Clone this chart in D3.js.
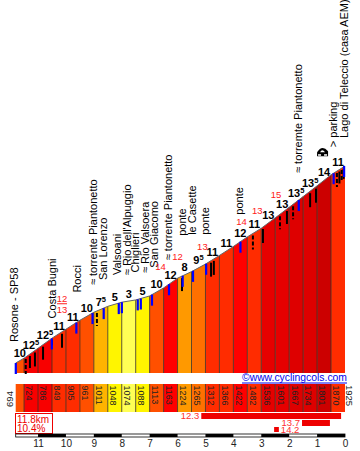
<!DOCTYPE html>
<html><head><meta charset="utf-8">
<script src="https://cdn.jsdelivr.net/npm/d3@7/dist/d3.min.js"></script>
<style>
html,body{margin:0;padding:0;background:#fff;}
svg{display:block;font-family:"Liberation Sans",Arial,sans-serif;}
</style></head>
<body><svg id="c" width="360" height="451"></svg>
<script>
// ---- data ----
const kmMarks = [11.8, 11.5, 11, 10.5, 10, 9.5, 9, 8.5, 8, 7.5, 7, 6.5, 6, 5.5, 5, 4.5, 4, 3.5, 3, 2.5, 2, 1.5, 1, 0.5, 0];
const elevations = [694, 724, 786, 849, 905, 961, 1011, 1048, 1074, 1088, 1113, 1163, 1224, 1265, 1312, 1366, 1422, 1482, 1536, 1601, 1667, 1734, 1801, 1870, 1925];
const gradients = ["10","12.5","12.5","11","11","10","7.5","5","3","5","10","12","8","9.5","11","11","12","11","13","13","13.5","13.5","14","11"];
const placeNames = ["Rosone - SP58","Costa Bugni","Rocci","\u2248 torrente Piantonetto","San Lorenzo","Valsoani","\u2248 Rio dell'Alpuggio","Chiglieri","\u2248 Rio Valsoera","San Giacomo","\u2248 torrente Piantonetto","ponte","le Casette","ponte","ponte","\u2248 torremte Piantonetto","> parking","Lago di Teleccio (casa AEM)"];
const placeKm = [11.8, 10.51, 9.63, 9.05, 8.65, 8.11, 8.0, 7.43, 7.32, 6.92, 6.31, 5.82, 5.45, 4.98, 3.75, 1.66, 0.41, 0];
const hairpinKm = [11.44, 11.29, 11.11, 10.82, 10.5, 10.14, 8.89, 5.84, 4.8, 4.7, 3.3, 2.94, 2.33, 2.08, 1.86, 1.25, 1.04, 0.29, 0.2, 0.12, 0.05];
const hairpinDashed = [1,0,0,0,0,0,1,0,0,0,1,0,1,0,1,0,0,1,0,1,0];
const spotKm = [6.61, 6.0, 5.11, 3.71, 3.14, 2.47];
const spotValues = ["14","12","13","14","13","15"];
const fractionKm = 10.14, fractionTop = "12", fractionBottom = "13";
const kmTicks = [11,10,9,8,7,6,5,4,3,2,1,0];
const maxGradValues = ["12.3","13.7","14.2"];
const maxGradFrom = [5.15, 1.54, 2.54];
const maxGradTo = [0.14, 0.54, 2.37];
const totalLength = "11.8km", avgGradient = "10.4%";
const credit = "\u00a9www.cyclingcols.com";

// ---- layout (pixels, not data) ----
const placeDx = [-2,0,0.5,0.5,-0.7,-1.7,5.2,-2.7,4.2,2,-1,-0.6,-1,-1,-1.4,-0.7,-0.6,-1];
const placeLift = [21,20,30,28,28,28,27,27,25.5,27,24,40,36,29,27,27,26,28];
const hairpinLen = [15,12,14,13,5,14,13,13,14,14,14,14,13,13,13,14,14,14,12,12,10];
const spotLift = [20,18,16,16,17,19];

const gradColor = d3.scaleLinear()
  .domain([3,5,7.5,8,9.5,10,11,12,12.5,13,13.5,14])
  .range(["#ffff55","#fff500","#ffb300","#ff9900","#ff7000","#ff5000","#ff2c00","#ff0000","#f80000","#e60000","#de0000","#cc0000"]);

const svg = d3.select("#c");
const x = d3.scaleLinear().domain([11.8, 0]).range([15.7, 345]);
const y = d3.scaleLinear().domain([694, 1925]).range([363, 166]);
const elevAt = d3.scaleLinear().domain(kmMarks).range(elevations);
const baseY = 373;

// segments
const segs = gradients.map((g, i) => ({g, k0: kmMarks[i], k1: kmMarks[i+1], e0: elevations[i], e1: elevations[i+1]}));
const area = d3.area().x(d => d[0]).y0(baseY).y1(d => d[1]);
svg.append("g").selectAll("path").data(segs).join("path")
  .attr("d", d => area([[x(d.k0), y(d.e0)], [x(d.k1), y(d.e1)]]))
  .attr("fill", d => gradColor(+d.g));
// vertical dividers
svg.append("g").selectAll("line").data(kmMarks.slice(1, -1)).join("line")
  .attr("x1", k => x(k)).attr("x2", k => x(k))
  .attr("y1", k => y(elevAt(k))).attr("y2", baseY)
  .attr("stroke", "#3a3020").attr("stroke-opacity", 0.8).attr("stroke-width", 1);
// profile outline
svg.append("path")
  .attr("d", d3.line().x((k, i) => x(k)).y((k, i) => y(elevations[i]))(kmMarks))
  .attr("fill", "none").attr("stroke", "#666").attr("stroke-width", 1);

// hairpins
svg.append("g").selectAll("line").data(hairpinKm).join("line")
  .attr("x1", k => x(k)).attr("x2", k => x(k))
  .attr("y1", k => y(elevAt(k)) + 2)
  .attr("y2", (k, i) => y(elevAt(k)) + 2 + hairpinLen[i])
  .attr("stroke", "#000").attr("stroke-width", 2)
  .attr("stroke-dasharray", (k, i) => hairpinDashed[i] ? "4,2" : null);

// blue place markers
svg.append("g").selectAll("rect").data(placeKm).join("rect")
  .attr("x", k => Math.min(x(k) - 1, 343)).attr("width", 2.2)
  .attr("y", k => y(elevAt(k))).attr("height", 11)
  .attr("fill", "#0000ff");

// place labels
svg.append("g").selectAll("text").data(placeNames).join("text")
  .attr("transform", (n, i) => {
    const px = x(placeKm[i]) + placeDx[i];
    const py = y(elevAt(placeKm[i])) - placeLift[i];
    return `translate(${px},${py}) rotate(-90)`;
  })
  .attr("dy", "0.35em").attr("font-size", 11).attr("fill", "#000")
  .text(d => d);

// parking icon
{
  const px = x(placeKm[16]) - 16.5, py = y(elevAt(placeKm[16])) - 26;
  const p = d3.path();
  p.moveTo(px, py + 9); p.lineTo(px, py + 5); p.quadraticCurveTo(px + 5, py - 3, px + 11, py + 4);
  p.lineTo(px + 11, py + 9); p.closePath();
  svg.append("path").attr("d", p.toString()).attr("fill", "#000");
  svg.append("path").attr("d", `M${px+3},${py+5} Q${px+5},${py+1} ${px+8},${py+5} Z`).attr("fill", "#fff");
  svg.append("rect").attr("x", px + 1).attr("y", py + 7).attr("width", 3).attr("height", 1.5).attr("fill", "#fff");
  svg.append("rect").attr("x", px + 7).attr("y", py + 7).attr("width", 3).attr("height", 1.5).attr("fill", "#fff");
}

// gradient labels
const gl = svg.append("g").selectAll("text").data(segs).join("text")
  .attr("x", d => x((d.k0 + d.k1) / 2))
  .attr("y", d => y((d.e0 + d.e1) / 2) - 2.5 - (+d.g) * 0.15)
  .attr("text-anchor", "middle").attr("font-size", 11).attr("font-weight", "bold").attr("fill", "#000");
gl.each(function(d) {
  const t = d3.select(this);
  const parts = d.g.split(".");
  t.append("tspan").text(parts[0]);
  if (parts[1]) t.append("tspan").attr("font-size", 7.5).attr("dy", -4).text(parts[1]);
});

// red spot gradients
svg.append("g").selectAll("text").data(spotValues).join("text")
  .attr("x", (v, i) => x(spotKm[i])).attr("y", (v, i) => y(elevAt(spotKm[i])) - spotLift[i])
  .attr("text-anchor", "middle").attr("font-size", 9.5).attr("fill", "#ff2020").text(v => v);
{
  const fx = x(fractionKm), fy = y(elevAt(fractionKm)) - 19;
  svg.append("text").attr("x", fx).attr("y", fy - 11).attr("text-anchor", "middle").attr("font-size", 9.5).attr("fill", "#ff2020").text(fractionTop);
  svg.append("line").attr("x1", fx - 5).attr("x2", fx + 5).attr("y1", fy - 9).attr("y2", fy - 9).attr("stroke", "#ff2020").attr("stroke-width", 1);
  svg.append("text").attr("x", fx).attr("y", fy).attr("text-anchor", "middle").attr("font-size", 9.5).attr("fill", "#ff2020").text(fractionBottom);
}

// credit
svg.append("text").attr("x", 242).attr("y", 381).attr("font-size", 10.5).attr("fill", "#0000ee")
  .attr("textLength", 105).attr("lengthAdjust", "spacingAndGlyphs").text(credit);
svg.append("line").attr("x1", 242).attr("x2", 347).attr("y1", 383).attr("y2", 383).attr("stroke", "#0000ee").attr("stroke-width", 1);

// elevation strip
const stripY = 384, stripH = 28;
svg.append("g").selectAll("rect").data(segs).join("rect")
  .attr("x", d => x(d.k0)).attr("width", d => x(d.k1) - x(d.k0))
  .attr("y", stripY).attr("height", stripH).attr("fill", d => gradColor(+d.g));
svg.append("g").selectAll("line").data(kmMarks.slice(1, -1)).join("line")
  .attr("x1", k => x(k)).attr("x2", k => x(k)).attr("y1", stripY).attr("y2", stripY + stripH)
  .attr("stroke", "#3a3020").attr("stroke-opacity", 0.8);
svg.append("g").selectAll("text").data(segs.slice(1)).join("text")
  .attr("transform", d => `translate(${(x(d.k0) + x(d.k1)) / 2 - 1.5},${stripY + 1.5}) rotate(90)`)
  .attr("dy", "0.35em").attr("font-size", 9).attr("fill", "#222").text(d => d.e0);
svg.append("text").attr("transform", `translate(10,${stripY + 15}) rotate(-90)`)
  .attr("dy", "0.35em").attr("text-anchor", "middle").attr("font-size", 9.5).attr("fill", "#222").text(elevations[0]);
svg.append("text").attr("transform", `translate(349,${stripY + 1}) rotate(90)`)
  .attr("dy", "0.35em").attr("font-size", 9.5).attr("fill", "#222").text(elevations[elevations.length - 1]);

// summary box
svg.append("rect").attr("x", 15.5).attr("y", 413.5).attr("width", 37).attr("height", 20)
  .attr("fill", "#fff").attr("stroke", "#ee0000");
svg.append("text").attr("x", 17).attr("y", 422.5).attr("font-size", 10).attr("fill", "#ee0000").text(totalLength);
svg.append("text").attr("x", 17).attr("y", 432).attr("font-size", 10).attr("fill", "#ee0000").text(avgGradient);

// max gradient bars
const mgY = [413, 420, 427], mgH = [6, 6, 5];
maxGradValues.forEach((v, i) => {
  svg.append("rect").attr("x", x(maxGradFrom[i])).attr("width", x(maxGradTo[i]) - x(maxGradFrom[i]))
    .attr("y", mgY[i]).attr("height", mgH[i]).attr("fill", "#ee0000");
  if (i < 2) {
    svg.append("text").attr("x", x(maxGradFrom[i]) - 2).attr("y", mgY[i] + 6).attr("text-anchor", "end")
      .attr("font-size", 9.5).attr("fill", "#ff3030").text(v);
  } else {
    svg.append("text").attr("x", x(maxGradTo[i]) + 2).attr("y", mgY[i] + 5.5)
      .attr("font-size", 9.5).attr("fill", "#ff3030").text(v);
  }
});

// km scale bar
svg.append("rect").attr("x", x(11.8)).attr("y", 434).attr("width", x(0) - x(11.8)).attr("height", 3)
  .attr("fill", "#fff").attr("stroke", "#000").attr("stroke-width", 0.8);
svg.append("g").selectAll("rect").data(kmTicks.filter(k => k % 2 === 0)).join("rect")
  .attr("x", k => x(k + 1)).attr("width", k => x(k) - x(k + 1)).attr("y", 434).attr("height", 3).attr("fill", "#000");
const axis = d3.axisBottom(x).tickValues(kmTicks).tickSize(0).tickPadding(0).tickFormat(d3.format("d"));
const ag = svg.append("g").attr("transform", "translate(0,440)").call(axis);
ag.select(".domain").remove();
ag.selectAll("text").attr("font-size", 10).attr("fill", "#222").attr("font-family", "Liberation Sans, Arial, sans-serif").attr("dy", "0.71em");
</script></body></html>
